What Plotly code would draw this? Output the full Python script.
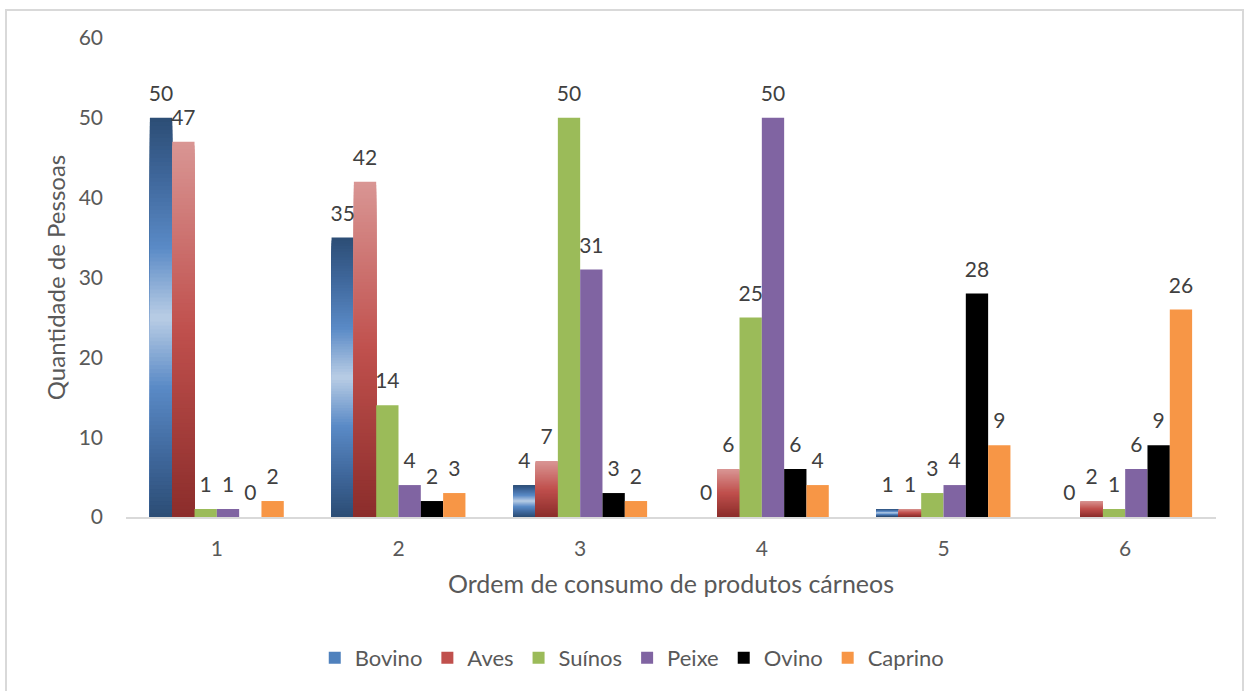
import plotly.graph_objects as go

# Dados: quantidade de pessoas por ordem de consumo
categorias = ["1", "2", "3", "4", "5", "6"]
bovino = [50, 35, 4, 0, 1, 0]
aves = [47, 42, 7, 6, 1, 2]
suinos = [1, 14, 50, 25, 3, 1]
peixe = [1, 4, 31, 50, 4, 6]
ovino = [0, 2, 3, 6, 28, 9]
caprino = [2, 3, 2, 4, 9, 26]
y_ticks = [0, 10, 20, 30, 40, 50, 60]

FONT = "Lato"
FS = 21          # ticks and data labels
FS_XTITLE = 25
FS_YTITLE = 24
FS_LEGEND = 22
W, H = 1251, 691
ML, MR, MT, MB = 126, 35, 38, 174
N_STEPS = 100


def hex_rgb(h):
    h = h.lstrip("#")
    return tuple(int(h[i:i + 2], 16) for i in (0, 2, 4))


def ramp(stops, t):
    """Interpolate a colour along (position, hex) stops for t in [0, 1]."""
    for (p0, c0), (p1, c1) in zip(stops, stops[1:]):
        if p0 <= t <= p1:
            f = 0 if p1 == p0 else (t - p0) / (p1 - p0)
            a, b = hex_rgb(c0), hex_rgb(c1)
            return "rgb(%d,%d,%d)" % tuple(round(a[i] + (b[i] - a[i]) * f) for i in range(3))
    return stops[-1][1]


# Bovino: dark at both ends, light in the middle of each bar
bovino_stops = [(0.0, "#B9CDE5"), (0.35, "#5A8AC6"), (0.7, "#3F679B"), (1.0, "#2C4D75")]
# Aves: dark red at the base, light pink at the top
aves_stops = [(0.0, "#8B2D2B"), (0.5, "#C0504D"), (1.0, "#D99694")]

fig = go.Figure()


def gradient_bars(name, values, color_at, legend_color, rank):
    # Nested bars drawn from tallest to shortest; each one shows the band at its top
    for k in range(N_STEPS):
        top = (N_STEPS - k) / N_STEPS
        t = (N_STEPS - k - 0.5) / N_STEPS
        fig.add_trace(go.Bar(
            x=categorias, y=[v * top for v in values], name=name,
            offsetgroup=name, legendgroup=name, showlegend=False,
            marker=dict(color=color_at(t), line=dict(width=0)),
            hoverinfo="skip",
        ))
    fig.add_trace(go.Bar(
        x=categorias, y=[0] * len(values), name=name, offsetgroup=name,
        legendgroup=name, showlegend=True, legendrank=rank,
        marker=dict(color=legend_color, line=dict(width=0)), hoverinfo="skip",
    ))


gradient_bars("Bovino", bovino, lambda t: ramp(bovino_stops, abs(t - 0.5) * 2), "#4F81BD", 1)
gradient_bars("Aves", aves, lambda t: ramp(aves_stops, t), "#C0504D", 2)

for name, vals, color, rank in [
    ("Suínos", suinos, "#9BBB59", 3),
    ("Peixe", peixe, "#8064A2", 4),
    ("Ovino", ovino, "#000000", 5),
    ("Caprino", caprino, "#F79646", 6),
]:
    fig.add_trace(go.Bar(
        x=categorias, y=vals, name=name, offsetgroup=name, legendgroup=name,
        legendrank=rank, marker=dict(color=color, line=dict(width=0)),
    ))

# Rótulos de dados acima de cada barra
for name, vals in [("Bovino", bovino), ("Aves", aves), ("Suínos", suinos),
                   ("Peixe", peixe), ("Ovino", ovino), ("Caprino", caprino)]:
    fig.add_trace(go.Scatter(
        x=categorias, y=vals, mode="markers+text", text=[str(v) for v in vals],
        textposition="top center", offsetgroup=name, showlegend=False,
        marker=dict(size=17, opacity=0), hoverinfo="skip", cliponaxis=False,
        textfont=dict(family=FONT, size=FS, color="#404040"),
    ))

# Moldura do gráfico
pw, ph = W - ML - MR, H - MT - MB
fig.add_shape(
    type="rect", xref="paper", yref="paper",
    x0=(6 - ML) / pw, x1=(1243 - ML) / pw,
    y0=-(H + 20 - MT - ph) / ph, y1=(MT - 10) / ph + 1,
    line=dict(color="#D9D9D9", width=2), fillcolor="rgba(0,0,0,0)", layer="below",
)

fig.update_layout(
    width=W, height=H,
    margin=dict(l=ML, r=MR, t=MT, b=MB),
    paper_bgcolor="white", plot_bgcolor="white",
    barmode="group", bargap=0.263, bargroupgap=0,
    scattermode="group", scattergap=0.263,
    font=dict(family=FONT, size=FS, color="#595959"),
    showlegend=True,
    legend=dict(
        orientation="h", xref="container", yref="container",
        x=0.505, xanchor="center", y=0.048, yanchor="middle",
        font=dict(family=FONT, size=FS_LEGEND, color="#595959"),
        itemwidth=30, traceorder="normal",
    ),
    xaxis=dict(
        type="category", showline=True, linecolor="#D9D9D9", linewidth=2,
        showgrid=False, ticks="", ticklabelstandoff=12,
        title=dict(text="Ordem de consumo de produtos cárneos", standoff=16,
                   font=dict(family=FONT, size=FS_XTITLE, color="#595959")),
        automargin=False,
    ),
    yaxis=dict(
        range=[0, 60], tickvals=y_ticks, showgrid=False, showline=False,
        zeroline=False, ticks="", ticklabelstandoff=22,
        title=dict(text="Quantidade de Pessoas", standoff=6,
                   font=dict(family=FONT, size=FS_YTITLE, color="#595959")),
        automargin=False,
    ),
)

fig.write_html("out.html")
